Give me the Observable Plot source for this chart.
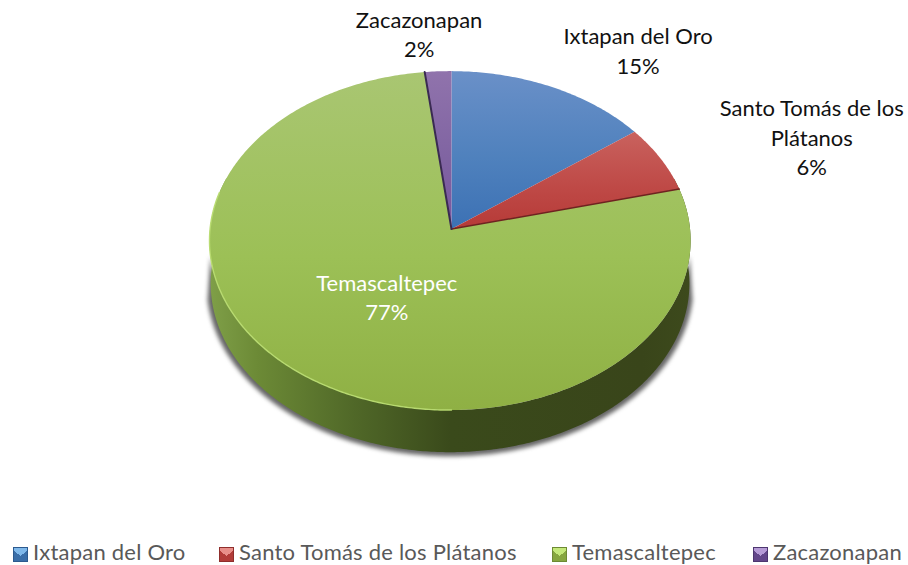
<!DOCTYPE html>
<html>
<head>
<meta charset="utf-8">
<script src="https://cdn.jsdelivr.net/npm/d3@7"></script>
<script src="https://cdn.jsdelivr.net/npm/@observablehq/plot@0.6"></script>
<style>
  html, body { margin: 0; padding: 0; background: #fff; }
  #chart { width: 908px; height: 565px; position: relative; overflow: hidden; font-family: Lato, sans-serif; }
  #legend { position: relative; height: 35px; top: 6.5px; }
  .item { position: absolute; top: 0; height: 35px; display: flex; align-items: center; color: #595959; font-size: 22px; letter-spacing: 0.22px; white-space: nowrap; }
  .sw { width: 13px; height: 13px; border: 1px solid; margin-right: 5px; flex: none; }
  .tx { position: relative; top: -2.5px; }
</style>
</head>
<body>
<div id="chart"></div>
<script>
// Data
const categories = ["Ixtapan del Oro", "Santo Tomás de los Plátanos", "Temascaltepec", "Zacazonapan"];
const values = [14.7, 6.4, 77.0, 1.9];
const labelNames = ["Ixtapan del Oro", "Santo Tomás de los\nPlátanos", "Temascaltepec", "Zacazonapan"];

// Styling
const topColor = ["#6a90c8", "#c9625e", "#a9c672", "#9073ac"];
const midColor = ["#4f81bd", "#bf4a47", "#9cc056", "#8064a2"];
const lowColor = ["#3c71b4", "#b63a37", "#8fb044", "#7a559f"];
const swLight = ["#7fb8ea", "#e88f8a", "#c4e87a", "#b59ad6"];
const swBase = ["#3a6ea8", "#b23c39", "#86a63f", "#63468a"];
const swBorder = ["#2c5a8f", "#8f2e2c", "#6d8a33", "#4d3670"];
const legendLeft = [13, 219, 552, 753];
const labelOffset = [[86, -37.5], [151, -22.5], [80, -80.5], [-19, -38.5]];

// Perspective of the tilted pie top
const k = -0.0678, m = 0.006, depth = 0.255, lowerScale = 0.995;
function rim(theta, s = 1, dY = 0) {
  const u = Math.sin(theta), v = -Math.cos(theta), w = 1 + k * v + m * u;
  return {X: s * u / w, Y: s * v / w + dY};
}
function arc(a0, a1) {
  const n = Math.max(2, Math.ceil(Math.abs(a1 - a0) * 90));
  return d3.range(n + 1).map(i => a0 + (a1 - a0) * i / n);
}
const W = 908, H = 530, A = 240, B = 168.7, cx = 451, cy = 228.6;
const total = d3.sum(values);
const cum = d3.cumsum(values);
const start = values.map((v, i) => (i ? cum[i - 1] : 0) / total * 2 * Math.PI);
const end = cum.map(c => c / total * 2 * Math.PI);
const apex = {X: 0, Y: 0};
const slices = values.map((v, i) => [apex, ...arc(start[i], end[i]).map(t => rim(t)), apex]);

const wallAngles = arc(Math.PI * 0.40, Math.PI * 1.60);
const wall = [...wallAngles.map(t => rim(t)), ...wallAngles.slice().reverse().map(t => rim(t, lowerScale, depth))];
const shadowAngles = arc(Math.PI * 0.55, Math.PI * 1.45);
const shadow = [...shadowAngles.map(t => rim(t)), ...shadowAngles.slice().reverse().map(t => rim(t, 1.012, depth + 0.006))];
const highlight = arc(Math.PI * 1.0, Math.PI * 1.57).map(t => rim(t));

function defs() {
  const d = d3.create("svg:defs");
  values.forEach((v, i) => {
    const g = d.append("linearGradient").attr("id", "g" + i).attr("x1", 0).attr("x2", 0).attr("y1", 0).attr("y2", 1);
    g.append("stop").attr("offset", "0%").attr("stop-color", topColor[i]);
    g.append("stop").attr("offset", "55%").attr("stop-color", midColor[i]);
    g.append("stop").attr("offset", "100%").attr("stop-color", lowColor[i]);
  });
  const w = d.append("linearGradient").attr("id", "wall").attr("x1", 0).attr("x2", 1).attr("y1", 0).attr("y2", 0);
  [[0, "#7f9f48"], [0.1, "#6c8a36"], [0.3, "#506828"], [0.5, "#3a4a1b"], [0.9, "#39451a"], [1, "#3d4a1c"]].forEach(([o, c]) =>
    w.append("stop").attr("offset", o).attr("stop-color", c));
  return d.node();
}
const blur = px => (index, scales, vals, dims, ctx, next) => {
  const g = next(index, scales, vals, dims, ctx);
  g.style.filter = `blur(${px}px)`;
  return g;
};
const labelAt = i => {
  const p = rim((start[i] + end[i]) / 2);
  return {X: p.X, Y: p.Y, text: `${labelNames[i]}\n${Math.round(values[i])}%`};
};

const plot = Plot.plot({
  width: W, height: H, margin: 0,
  x: {domain: [-cx / A, (W - cx) / A], range: [0, W], axis: null},
  y: {domain: [-cy / B, (H - cy) / B], range: [0, H], axis: null},
  style: {background: "transparent", fontFamily: "Lato, sans-serif"},
  marks: [
    defs,
    Plot.line(shadow, {x: "X", y: "Y", fill: "#555", stroke: "none", fillOpacity: 0.9, render: blur(2)}),
    Plot.line(wall, {x: "X", y: "Y", fill: "url(#wall)", stroke: "none"}),
    ...slices.map((s, i) => Plot.line(s, {x: "X", y: "Y", fill: `url(#g${i})`, stroke: "none"})),
    Plot.line(highlight, {x: "X", y: "Y", stroke: "#b9dc72", strokeWidth: 1.4, strokeOpacity: 0.95}),
    Plot.line([apex, rim(end[1])], {x: "X", y: "Y", stroke: "#6e2220", strokeWidth: 1.5}),
    Plot.line([apex, rim(start[3])], {x: "X", y: "Y", stroke: "#3a2a52", strokeWidth: 2}),
    ...values.map((v, i) => Plot.text([labelAt(i)], {
      x: "X", y: "Y", text: "text", dx: labelOffset[i][0], dy: labelOffset[i][1],
      fontSize: 22, lineHeight: 1.34, textAnchor: "middle", lineAnchor: "middle",
      fill: i === 2 ? "#ffffff" : "#111111"
    }))
  ]
});
const chart = document.getElementById("chart");
chart.appendChild(plot);
plot.style.display = "block";

const legend = d3.select(chart).append("div").attr("id", "legend");
categories.forEach((c, i) => {
  const it = legend.append("div").attr("class", "item").style("left", legendLeft[i] + "px");
  it.append("span").attr("class", "sw")
    .style("border-color", swBorder[i])
    .style("background", `conic-gradient(from -50deg at 50% 62%, ${swLight[i]} 0 100deg, ${swBase[i]} 100deg 360deg)`);
  it.append("span").attr("class", "tx").text(c);
});
</script>
</body>
</html>
